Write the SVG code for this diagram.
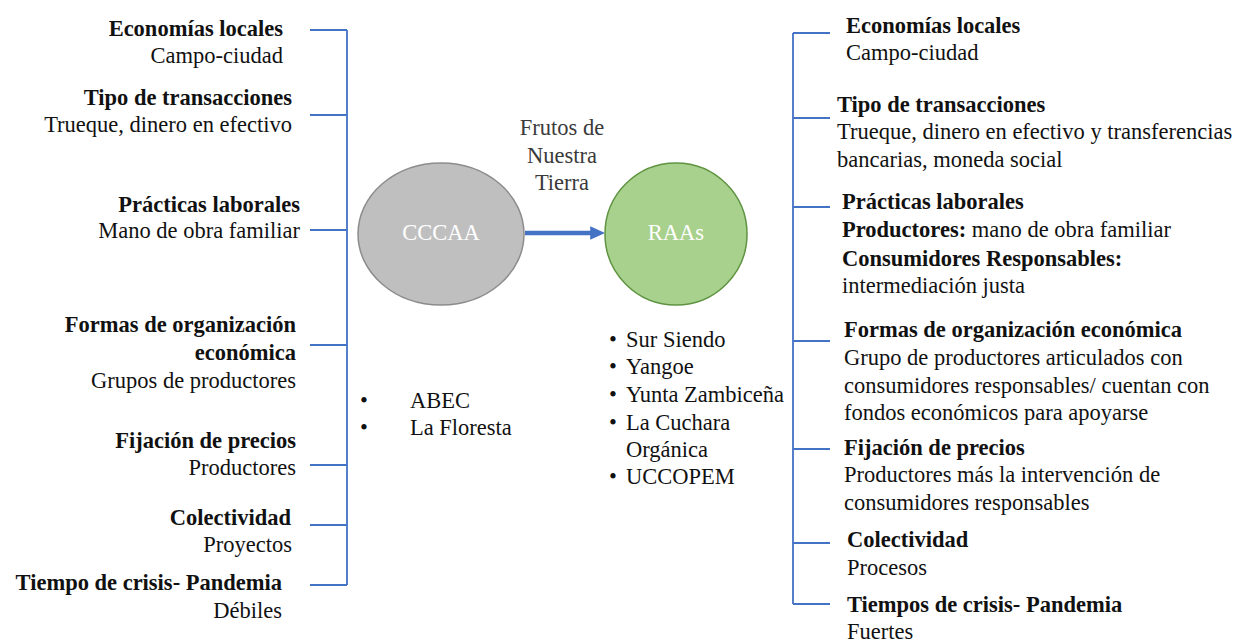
<svg xmlns="http://www.w3.org/2000/svg" width="1250" height="642" viewBox="0 0 1250 642">
<style>
text{font-family:"Liberation Serif","Times New Roman",serif;font-size:22.5px;fill:#111111}
.b{font-weight:bold}
.e{text-anchor:end}
.m{text-anchor:middle}
.w{fill:#ffffff}
.g{fill:#3a3a3a}
.ln{stroke:#4472C4;stroke-width:1.8;fill:none}
</style>
<defs>
<marker id="ah" markerWidth="4" markerHeight="4" refX="0.4" refY="2" orient="auto" markerUnits="strokeWidth"><path d="M0,0.5 L3.3,2 L0,3.5 Z" fill="#4472C4"/></marker>
</defs>
<rect width="1250" height="642" fill="#ffffff"/>
<g id="connectors">
<path class="ln" d="M347,30 V585 M310,30 H347 M310,115 H347 M310,230 H347 M310,345 H347 M310,465 H347 M310,525 H347 M310,585 H347"/>
<path class="ln" d="M793,33 V604 M793,33 H830 M793,118 H830 M793,207 H830 M793,341 H830 M793,449 H830 M793,543 H830 M793,604 H830"/>
<line x1="525" y1="233" x2="592" y2="233" stroke="#4472C4" stroke-width="4.5" marker-end="url(#ah)"/>
</g>
<g id="left-labels">
<text class="b e" x="283" y="36">Economías locales</text>
<text class="e" x="283" y="63">Campo-ciudad</text>
<text class="b e" x="292" y="105">Tipo de transacciones</text>
<text class="e" x="292" y="132">Trueque, dinero en efectivo</text>
<text class="b e" x="300" y="212">Prácticas laborales</text>
<text class="e" x="300" y="238">Mano de obra familiar</text>
<text class="b e" x="296" y="332">Formas de organización</text>
<text class="b e" x="296" y="360">económica</text>
<text class="e" x="296" y="388">Grupos de productores</text>
<text class="b e" x="296" y="448">Fijación de precios</text>
<text class="e" x="296" y="475">Productores</text>
<text class="b e" x="291" y="525">Colectividad</text>
<text class="e" x="292" y="552">Proyectos</text>
<text class="b e" x="282" y="590">Tiempo de crisis- Pandemia</text>
<text class="e" x="282" y="618">Débiles</text>
</g>
<g id="node-cccaa">
<ellipse cx="441" cy="234" rx="83" ry="71" fill="#BFBFBF" stroke="#8C8C8C" stroke-width="1.5"/>
<text class="m w" x="441" y="240">CCCAA</text>
</g>
<g id="node-raas">
<ellipse cx="676" cy="234" rx="71" ry="71" fill="#A9D18E" stroke="#5E9440" stroke-width="1.5"/>
<text class="m w" x="676" y="240">RAAs</text>
</g>
<g id="edge-label">
<text class="m g" x="562" y="135">Frutos de</text>
<text class="m g" x="562" y="163">Nuestra</text>
<text class="m g" x="562" y="190">Tierra</text>
</g>
<g id="list-cccaa">
<text x="360" y="408">•</text><text x="410" y="408">ABEC</text>
<text x="360" y="435">•</text><text x="410" y="435">La Floresta</text>
</g>
<g id="list-raas">
<text x="609" y="347">•</text><text x="626" y="347">Sur Siendo</text>
<text x="609" y="374">•</text><text x="626" y="374">Yangoe</text>
<text x="609" y="402">•</text><text x="626" y="402">Yunta Zambiceña</text>
<text x="609" y="430">•</text><text x="626" y="430">La Cuchara</text>
<text x="626" y="457">Orgánica</text>
<text x="609" y="484">•</text><text x="626" y="484">UCCOPEM</text>
</g>
<g id="right-labels">
<text class="b" x="846" y="33">Economías locales</text>
<text x="846" y="60">Campo-ciudad</text>
<text class="b" x="837" y="112">Tipo de transacciones</text>
<text x="837" y="139">Trueque, dinero en efectivo y transferencias</text>
<text x="837" y="167">bancarias, moneda social</text>
<text class="b" x="842" y="209">Prácticas laborales</text>
<text x="842" y="237"><tspan class="b">Productores:</tspan> mano de obra familiar</text>
<text class="b" x="842" y="266">Consumidores Responsables:</text>
<text x="842" y="293">intermediación justa</text>
<text class="b" x="844" y="337">Formas de organización económica</text>
<text x="844" y="365">Grupo de productores articulados con</text>
<text x="844" y="393">consumidores responsables/ cuentan con</text>
<text x="844" y="420">fondos económicos para apoyarse</text>
<text class="b" x="844" y="455">Fijación de precios</text>
<text x="844" y="482">Productores más la intervención de</text>
<text x="844" y="510">consumidores responsables</text>
<text class="b" x="847" y="547">Colectividad</text>
<text x="847" y="575">Procesos</text>
<text class="b" x="847" y="612">Tiempos de crisis- Pandemia</text>
<text x="847" y="639">Fuertes</text>
</g>
</svg>
